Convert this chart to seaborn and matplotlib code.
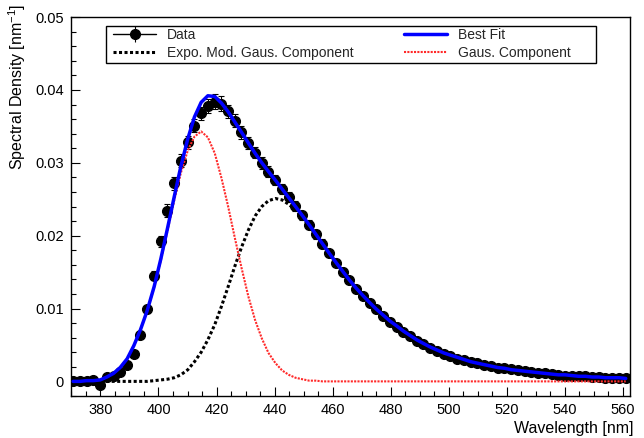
import matplotlib
matplotlib.use('Agg')
import matplotlib.pyplot as plt
from matplotlib.lines import Line2D
from matplotlib.patches import Rectangle
from matplotlib.ticker import MultipleLocator, FuncFormatter
import seaborn as sns

# wavelength of each measured bin [nm]
wavelength = [370.6, 372.9, 375.2, 377.5, 379.9, 382.2, 384.5, 386.8, 389.2, 391.5,
              393.8, 396.1, 398.5, 400.8, 403.1, 405.4, 407.7, 410.1, 412.4, 414.7,
              417.0, 419.4, 421.7, 424.0, 426.3, 428.6, 431.0, 433.3, 435.6, 437.9,
              440.3, 442.6, 444.9, 447.2, 449.5, 451.9, 454.2, 456.5, 458.8, 461.2,
              463.5, 465.8, 468.1, 470.4, 472.8, 475.1, 477.4, 479.7, 482.1, 484.4,
              486.7, 489.0, 491.3, 493.7, 496.0, 498.3, 500.6, 503.0, 505.3, 507.6,
              509.9, 512.2, 514.6, 516.9, 519.2, 521.5, 523.9, 526.2, 528.5, 530.8,
              533.1, 535.5, 537.8, 540.1, 542.4, 544.8, 547.1, 549.4, 551.7, 554.0,
              556.4, 558.7, 561.0]

# measured spectral density and its uncertainty
density = [0.0000, 0.0000, 0.0001, 0.0002, -0.0005, 0.0006, 0.0007, 0.0013, 0.0023, 0.0037,
           0.0064, 0.0099, 0.0145, 0.0192, 0.0234, 0.0272, 0.0303, 0.0328, 0.0351, 0.0368,
           0.0378, 0.0384, 0.0381, 0.0371, 0.0358, 0.0342, 0.0327, 0.0314, 0.0300, 0.0288,
           0.0276, 0.0264, 0.0253, 0.0241, 0.0228, 0.0215, 0.0202, 0.0189, 0.0176, 0.0163,
           0.0150, 0.0139, 0.0127, 0.0117, 0.0107, 0.0099, 0.0090, 0.0082, 0.0075, 0.0068,
           0.0062, 0.0056, 0.0051, 0.0046, 0.0042, 0.0038, 0.0035, 0.0031, 0.0029, 0.0027,
           0.0025, 0.0023, 0.0021, 0.0019, 0.0018, 0.0017, 0.0015, 0.0014, 0.0013, 0.0012,
           0.0011, 0.0010, 0.0009, 0.0008, 0.0008, 0.0007, 0.0007, 0.0006, 0.0006, 0.0005,
           0.0005, 0.0004, 0.0004]

density_err = [0.0002, 0.0002, 0.0002, 0.0002, 0.0002, 0.0002, 0.0002, 0.0003, 0.0003, 0.0003,
               0.0004, 0.0005, 0.0006, 0.0008, 0.0009, 0.0009, 0.0009, 0.0009, 0.0009, 0.0009,
               0.0010, 0.0010, 0.0010, 0.0009, 0.0009, 0.0009, 0.0008, 0.0008, 0.0008, 0.0007,
               0.0007, 0.0007, 0.0007, 0.0007, 0.0006, 0.0006, 0.0006, 0.0006, 0.0005, 0.0005,
               0.0005, 0.0004, 0.0004, 0.0004, 0.0004, 0.0003, 0.0003, 0.0003, 0.0003, 0.0003,
               0.0002, 0.0002, 0.0002, 0.0002, 0.0002, 0.0002, 0.0002, 0.0002, 0.0002, 0.0002,
               0.0002, 0.0002, 0.0002, 0.0002, 0.0002, 0.0002, 0.0002, 0.0002, 0.0002, 0.0002,
               0.0002, 0.0002, 0.0002, 0.0002, 0.0002, 0.0002, 0.0002, 0.0002, 0.0002, 0.0002,
               0.0002, 0.0002, 0.0002]

# fitted curves, read at the same wavelengths
best_fit = [0.0000, 0.0000, 0.0001, 0.0001, 0.0002, 0.0006, 0.0011, 0.0019, 0.0031, 0.0049,
            0.0071, 0.0097, 0.0130, 0.0168, 0.0210, 0.0253, 0.0295, 0.0333, 0.0363, 0.0383,
            0.0392, 0.0391, 0.0382, 0.0370, 0.0356, 0.0342, 0.0327, 0.0313, 0.0300, 0.0288,
            0.0276, 0.0264, 0.0252, 0.0240, 0.0228, 0.0215, 0.0202, 0.0189, 0.0176, 0.0163,
            0.0151, 0.0139, 0.0128, 0.0118, 0.0108, 0.0099, 0.0091, 0.0083, 0.0076, 0.0069,
            0.0063, 0.0057, 0.0052, 0.0047, 0.0043, 0.0039, 0.0036, 0.0033, 0.0030, 0.0027,
            0.0025, 0.0023, 0.0021, 0.0019, 0.0018, 0.0016, 0.0015, 0.0014, 0.0013, 0.0012,
            0.0011, 0.0010, 0.0009, 0.0009, 0.0008, 0.0007, 0.0007, 0.0006, 0.0006, 0.0005,
            0.0005, 0.0005, 0.0004]

emg_component = [0.0000, 0.0000, 0.0000, 0.0000, 0.0000, 0.0000, 0.0000, 0.0000, 0.0000, 0.0000,
                 0.0000, 0.0000, 0.0001, 0.0002, 0.0003, 0.0005, 0.0009, 0.0016, 0.0027, 0.0040,
                 0.0057, 0.0078, 0.0103, 0.0130, 0.0158, 0.0184, 0.0208, 0.0227, 0.0240, 0.0248,
                 0.0251, 0.0249, 0.0243, 0.0235, 0.0225, 0.0214, 0.0201, 0.0189, 0.0176, 0.0163,
                 0.0151, 0.0139, 0.0128, 0.0118, 0.0108, 0.0099, 0.0091, 0.0083, 0.0076, 0.0069,
                 0.0063, 0.0057, 0.0052, 0.0047, 0.0043, 0.0039, 0.0036, 0.0033, 0.0030, 0.0027,
                 0.0025, 0.0023, 0.0021, 0.0019, 0.0018, 0.0016, 0.0015, 0.0014, 0.0013, 0.0012,
                 0.0011, 0.0010, 0.0009, 0.0009, 0.0008, 0.0007, 0.0007, 0.0006, 0.0006, 0.0005,
                 0.0005, 0.0005, 0.0004]

gaus_component = [0.0000, 0.0000, 0.0001, 0.0001, 0.0002, 0.0006, 0.0011, 0.0019, 0.0031, 0.0049,
                  0.0071, 0.0097, 0.0129, 0.0166, 0.0207, 0.0248, 0.0286, 0.0317, 0.0336, 0.0343,
                  0.0335, 0.0313, 0.0279, 0.0240, 0.0197, 0.0156, 0.0116, 0.0084, 0.0059, 0.0039,
                  0.0025, 0.0015, 0.0009, 0.0005, 0.0003, 0.0001, 0.0001, 0.0000, 0.0000, 0.0000,
                  0.0000, 0.0000, 0.0000, 0.0000, 0.0000, 0.0000, 0.0000, 0.0000, 0.0000, 0.0000,
                  0.0000, 0.0000, 0.0000, 0.0000, 0.0000, 0.0000, 0.0000, 0.0000, 0.0000, 0.0000,
                  0.0000, 0.0000, 0.0000, 0.0000, 0.0000, 0.0000, 0.0000, 0.0000, 0.0000, 0.0000,
                  0.0000, 0.0000, 0.0000, 0.0000, 0.0000, 0.0000, 0.0000, 0.0000, 0.0000, 0.0000,
                  0.0000, 0.0000, 0.0000]

sns.set_theme(style='white')
plt.rcParams['font.family'] = ['Liberation Sans', 'DejaVu Sans']
plt.rcParams['mathtext.default'] = 'regular'

fig = plt.figure(figsize=(6.44, 4.38), dpi=100)
ax = fig.add_axes([0.110, 0.096, 0.868, 0.865])

emg_style = dict(color='black', lw=2.2, linestyle=(0, (1, 0.8)))
gaus_style = dict(color='#ff2a2a', lw=1.5, linestyle=(0, (1, 0.6)))
fit_style = dict(color='#0000ff', lw=2.5)

ax.errorbar(wavelength, density, yerr=density_err, fmt='o', color='black', markersize=7,
            elinewidth=0.8, capsize=2.5, capthick=0.8, zorder=2)
sns.lineplot(x=wavelength, y=emg_component, ax=ax, errorbar=None, zorder=3, **emg_style)
sns.lineplot(x=wavelength, y=gaus_component, ax=ax, errorbar=None, zorder=4, **gaus_style)
sns.lineplot(x=wavelength, y=best_fit, ax=ax, errorbar=None, zorder=5, **fit_style)

ax.set_xlim(369.8, 562.4)
ax.set_ylim(-0.002, 0.05)
ax.xaxis.set_major_locator(MultipleLocator(20))
ax.xaxis.set_minor_locator(MultipleLocator(5))
ax.yaxis.set_major_locator(MultipleLocator(0.01))
ax.yaxis.set_minor_locator(MultipleLocator(0.002))
ax.yaxis.set_major_formatter(FuncFormatter(lambda v, p: f'{v:g}'))
ax.tick_params(which='both', direction='in', bottom=True, left=True, top=False, right=False,
               colors='black', width=0.8, labelsize=10.5)
ax.tick_params(which='major', length=6.5)
ax.tick_params(which='minor', length=3.3)
ax.tick_params(axis='y', pad=5)
ax.tick_params(axis='x', pad=5)
for s in ax.spines.values():
    s.set_color('black')
    s.set_linewidth(1)

ax.set_xlabel('Wavelength [nm]', loc='right', fontsize=11.5, color='black')
ax.set_ylabel('Spectral Density [nm$^{-1}$]', loc='top', fontsize=11.5, color='black')
ax.xaxis.set_label_coords(1.007, -0.065)
ax.yaxis.set_label_coords(-0.076, 1.035)

h_data = (Line2D([], [], color='black', lw=1, marker='o', markersize=7),
          Line2D([], [], color='black', marker='|', markersize=11, linestyle='None',
                 markeredgewidth=0.8))
h_emg = Line2D([], [], **emg_style)
h_fit = Line2D([], [], **fit_style)
h_gaus = Line2D([], [], **gaus_style)
ax.legend([h_data, h_emg, h_fit, h_gaus],
          ['Data', 'Expo. Mod. Gaus. Component', 'Best Fit', 'Gaus. Component'],
          ncol=2, loc='upper left', bbox_to_anchor=(0.0756, 0.972), borderaxespad=0,
          borderpad=0, frameon=False, fontsize=10, handlelength=3.1, handletextpad=0.8,
          labelspacing=0.3, columnspacing=3.6)
ax.add_patch(Rectangle((0.0631, 0.879), 0.876, 0.097, transform=ax.transAxes,
                       fill=False, edgecolor='black', lw=1, zorder=10))

fig.savefig('out.png', dpi=100)
